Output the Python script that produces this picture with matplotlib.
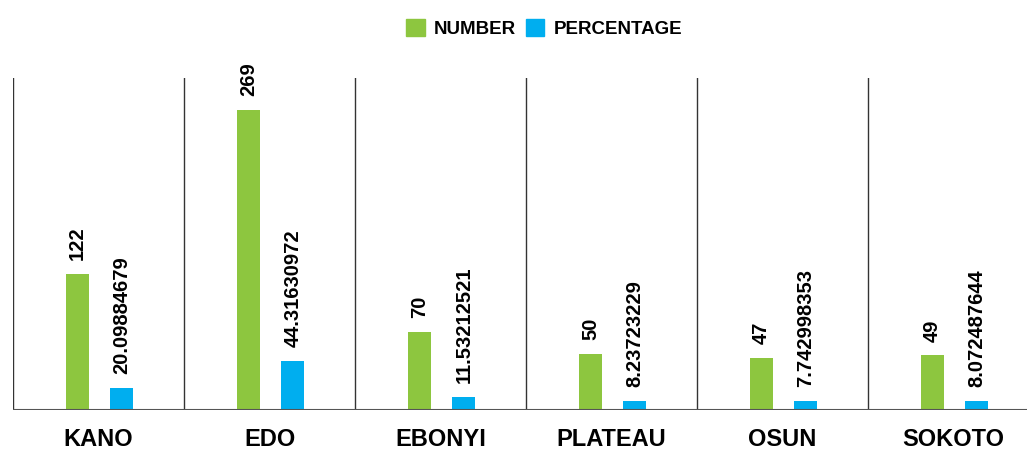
import numpy as np
import matplotlib.pyplot as plt
from matplotlib.patches import Patch

states = ['KANO', 'EDO', 'EBONYI', 'PLATEAU', 'OSUN', 'SOKOTO']
number = [122, 269, 70, 50, 47, 49]
percentage = [20.09884679, 44.31630972, 11.53212521, 8.23723229, 7.742998353, 8.072487644]
pct_labels = ['20.09884679', '44.31630972', '11.53212521', '8.23723229', '7.742998353', '8.072487644']

green = '#8DC63F'
blue = '#00AEEF'

plt.rcParams['font.family'] = ['Liberation Sans', 'DejaVu Sans']

fig = plt.figure(figsize=(10.27, 4.51), dpi=100)
ax = fig.add_axes([13 / 1027, 1 - 410 / 451, 6 * 171 / 1027, (410 - 78) / 451])

x = np.arange(len(states))
w = 0.135
ax.bar(x - 0.123, number, w, color=green)
ax.bar(x + 0.137, percentage, w, color=blue)

for i in range(len(states)):
    ax.annotate(str(number[i]), (x[i] - 0.123, number[i]), xytext=(0, 10),
                textcoords='offset points', rotation=90, ha='center', va='bottom',
                fontsize=14.5, fontweight='bold', annotation_clip=False)
    ax.annotate(pct_labels[i], (x[i] + 0.137, percentage[i]), xytext=(0, 10),
                textcoords='offset points', rotation=90, ha='center', va='bottom',
                fontsize=14.5, fontweight='bold', annotation_clip=False)

# separators between the states
for s in np.arange(-0.5, len(states), 1.0):
    ax.axvline(s, color='#333333', lw=1)
ax.axhline(0, color='#555555', lw=1.5)

ax.set_xlim(-0.5, len(states) - 0.5)
ax.set_ylim(0, 298)
ax.set_xticks(x)
ax.set_xticklabels(states, fontsize=17, fontweight='bold')
ax.tick_params(axis='x', length=0, pad=13)
ax.set_yticks([])
for sp in ax.spines.values():
    sp.set_visible(False)

handles = [Patch(color=green, label='NUMBER'), Patch(color=blue, label='PERCENTAGE')]
fig.legend(handles=handles, loc='center', bbox_to_anchor=(0.53, 0.937), ncol=2,
           frameon=False, prop={'weight': 'bold', 'size': 13.5},
           handlelength=1.0, handleheight=1.0, handletextpad=0.5, columnspacing=0.5)

fig.savefig('out.png', dpi=100)
